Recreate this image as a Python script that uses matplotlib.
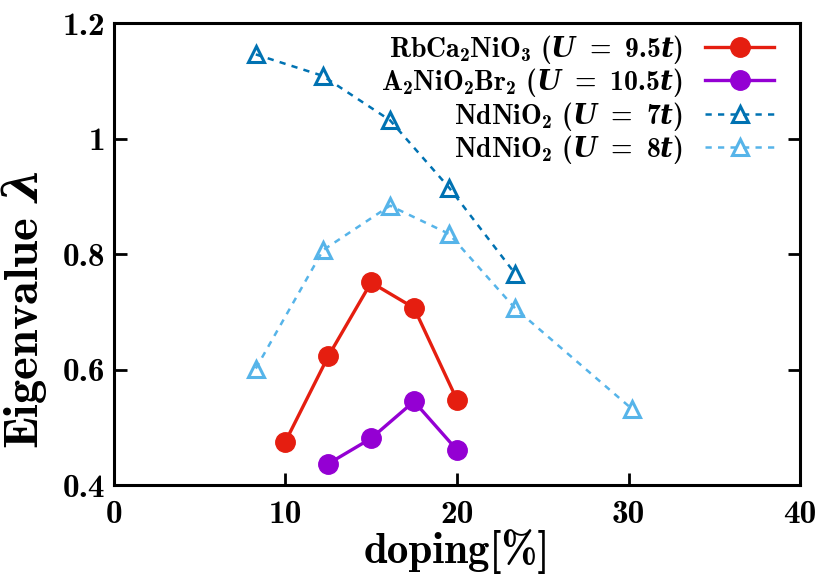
import matplotlib
matplotlib.use("Agg")
import matplotlib.pyplot as plt

plt.rcParams['font.family'] = ['cmb10', 'DejaVu Serif']
plt.rcParams['mathtext.fontset'] = 'custom'
plt.rcParams['mathtext.rm'] = 'cmb10'
plt.rcParams['mathtext.it'] = 'DejaVu Serif:italic:bold'
plt.rcParams['mathtext.bf'] = 'cmb10'
plt.rcParams['axes.unicode_minus'] = False

# Data
rb_x = [10, 12.5, 15, 17.5, 20]
rb_y = [0.475, 0.623, 0.751, 0.707, 0.548]
br_x = [12.5, 15, 17.5, 20]
br_y = [0.437, 0.481, 0.545, 0.461]
nd7_x = [8.28, 12.17, 16.1, 19.55, 23.4]
nd7_y = [1.146, 1.109, 1.032, 0.915, 0.766]
nd8_x = [8.28, 12.2, 16.1, 19.55, 23.4, 30.2]
nd8_y = [0.602, 0.807, 0.884, 0.835, 0.706, 0.532]

labels = [r"RbCa$_2$NiO$_3$ ($U\;=\;9.5t$)",
          r"A$_2$NiO$_2$Br$_2$ ($U\;=\;10.5t$)",
          r"NdNiO$_2$ ($U\;=\;7t$)",
          r"NdNiO$_2$ ($U\;=\;8t$)"]
xticks = [0, 10, 20, 30, 40]
yticks = [0.4, 0.6, 0.8, 1.0, 1.2]
yticklabels = ['0.4', '0.6', '0.8', '1', '1.2']

c_red = '#e51e10'
c_pur = '#9400d3'
c_dblue = '#0072b2'
c_lblue = '#56b4e9'

fig = plt.figure(figsize=(8.3, 5.81), dpi=100)
ax = fig.add_axes([0.137, 0.165, 0.827, 0.795])

ax.plot(rb_x, rb_y, '-', color=c_red, lw=2.4, marker='o', ms=14, label=labels[0])
ax.plot(br_x, br_y, '-', color=c_pur, lw=2.4, marker='o', ms=14, label=labels[1])
ax.plot(nd7_x, nd7_y, '--', color=c_dblue, lw=1.8, dashes=(2.5, 2.5), marker='^', ms=11,
        mfc='none', mew=2.2, label=labels[2])
ax.plot(nd8_x, nd8_y, '--', color=c_lblue, lw=1.8, dashes=(2.5, 2.5), marker='^', ms=11,
        mfc='none', mew=2.2, label=labels[3])

ax.set_xlim(0, 40)
ax.set_ylim(0.4, 1.2)
ax.set_xticks(xticks)
ax.set_xticklabels([str(v) for v in xticks])
ax.set_yticks(yticks)
ax.set_yticklabels(yticklabels)
ax.tick_params(direction='in', length=9, width=2, labelsize=24, right=True, top=False)
ax.tick_params(axis='x', pad=11)
ax.tick_params(axis='y', pad=6)
for s in ax.spines.values():
    s.set_linewidth(2.2)

ax.set_xlabel('doping[%]', fontsize=31, labelpad=0)
ax.set_ylabel(r'Eigenvalue $\lambda$', fontsize=35)
ax.yaxis.set_label_coords(-0.095, 0.38)

leg = ax.legend(loc='upper right', bbox_to_anchor=(1.003, 1.04), frameon=False,
                markerfirst=False, fontsize=20, handlelength=2.5, labelspacing=0.02,
                borderaxespad=0.6, handletextpad=0.8)

fig.savefig('out.png', dpi=100)
